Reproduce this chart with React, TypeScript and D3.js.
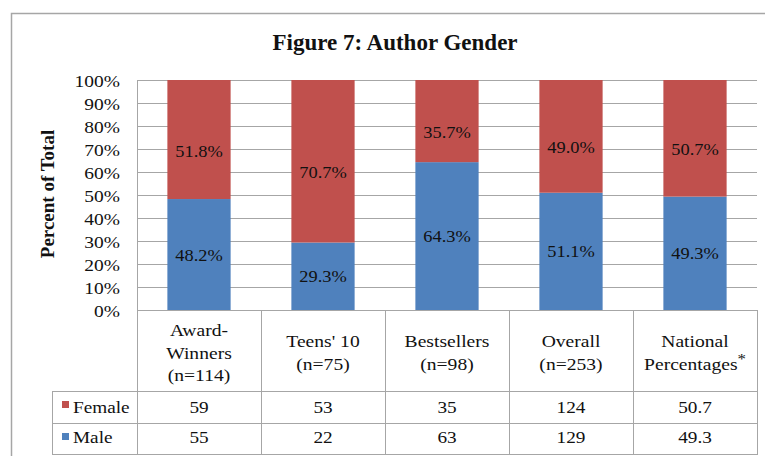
import * as d3 from "d3";
import React from "react";

// chart data
const categoryLines = [
  ["Award-", "Winners", "(n=114)"],
  ["Teens' 10", "(n=75)"],
  ["Bestsellers", "(n=98)"],
  ["Overall", "(n=253)"],
  ["National", "Percentages*"],
];
const femaleCounts = [59, 53, 35, 124, 50.7];
const maleCounts = [55, 22, 63, 129, 49.3];
const femaleLabels = ["51.8%", "70.7%", "35.7%", "49.0%", "50.7%"];
const maleLabels = ["48.2%", "29.3%", "64.3%", "51.1%", "49.3%"];
const yTicks = [0, 0.1, 0.2, 0.3, 0.4, 0.5, 0.6, 0.7, 0.8, 0.9, 1];

const RED = "#C0504D";
const BLUE = "#4F81BD";
const GRID = "#a6a6a6";
const FONT = "'Liberation Serif', 'DejaVu Serif', serif";

const W = 765;
const H = 456;
const plot = { left: 137, right: 757, top: 80, bottom: 310 };
const table = { legendLeft: 52, headerBottom: 391, femaleBottom: 423, maleBottom: 454 };

// text with a little horizontal stretch, like the source
const T = ({ x, y, sx = 1, anchor = "middle", size = 17.5, weight = "normal", children }: any) => (
  <text
    transform={`translate(${x},${y}) scale(${sx},1)`}
    textAnchor={anchor}
    fontSize={size}
    fontWeight={weight}
    fontFamily={FONT}
    fill="#111"
  >
    {children}
  </text>
);

export default function App() {
  const ids = categoryLines.map((_, i) => i);
  const rows = ids.map((i) => ({ i, male: maleCounts[i], female: femaleCounts[i] }));
  const stack = d3.stack<any>().keys(["male", "female"]).offset(d3.stackOffsetExpand);
  const series = stack(rows);

  const x = d3.scaleBand<number>().domain(ids).range([plot.left, plot.right]).paddingInner(0.49).paddingOuter(0.245);
  const col = d3.scaleBand<number>().domain(ids).range([plot.left, plot.right]);
  const y = d3.scaleLinear().domain([0, 1]).range([plot.bottom, plot.top]);

  const colors: Record<string, string> = { male: BLUE, female: RED };
  const labels: Record<string, string[]> = { male: maleLabels, female: femaleLabels };

  return (
    <svg width={W} height={H} style={{ position: "fixed", left: 0, top: 0, display: "block", background: "#fff" }}>
      <rect x={0} y={0} width={W} height={H} fill="#fff" />
      {/* outer chart frame */}
      <rect x={11.5} y={13.5} width={900} height={600} fill="none" stroke={GRID} strokeWidth={1.5} />

      {/* title */}
      <text x={395} y={50} textAnchor="middle" fontFamily={FONT} fontWeight="bold" fontSize={23} fill="#111">
        Figure 7: Author Gender
      </text>

      {/* y axis title */}
      <text
        transform={`translate(54,194) rotate(-90)`}
        textAnchor="middle"
        fontFamily={FONT}
        fontWeight="bold"
        fontSize={19}
        fill="#111"
      >
        Percent of Total
      </text>

      {/* gridlines + tick labels */}
      {yTicks.map((t) => (
        <g key={t}>
          <line x1={plot.left} x2={plot.right} y1={Math.round(y(t)) + 0.5} y2={Math.round(y(t)) + 0.5} stroke={GRID} />
          <T x={120} y={y(t) + 6.5} anchor="end" size={16.5} sx={1.18}>
            {d3.format(".0%")(t)}
          </T>
        </g>
      ))}
      <line x1={plot.left + 0.5} x2={plot.left + 0.5} y1={plot.top} y2={table.maleBottom} stroke={GRID} />

      {/* bars */}
      {series.map((s) =>
        s.map((d: any) => (
          <rect
            key={s.key + d.data.i}
            x={x(d.data.i)}
            width={x.bandwidth()}
            y={y(d[1])}
            height={y(d[0]) - y(d[1])}
            fill={colors[s.key]}
          />
        ))
      )}
      {series.map((s) =>
        s.map((d: any) => (
          <T
            key={"l" + s.key + d.data.i}
            x={x(d.data.i)! + x.bandwidth() / 2}
            y={(y(d[0]) + y(d[1])) / 2 + 6 + (s.key === "female" ? 11 : 0)}
            size={17.5}
            sx={1.05}
          >
            {labels[s.key][d.data.i]}
          </T>
        ))
      )}

      {/* data table lines */}
      {[table.headerBottom, table.femaleBottom, table.maleBottom].map((ly) => (
        <line key={ly} x1={table.legendLeft} x2={plot.right + 1} y1={ly + 0.5} y2={ly + 0.5} stroke={GRID} />
      ))}
      <line x1={table.legendLeft + 0.5} x2={table.legendLeft + 0.5} y1={table.headerBottom} y2={table.maleBottom} stroke={GRID} />
      {ids.map((i) => (
        <line
          key={"v" + i}
          x1={col(i)! + col.bandwidth() + 0.5}
          x2={col(i)! + col.bandwidth() + 0.5}
          y1={plot.bottom}
          y2={table.maleBottom}
          stroke={GRID}
        />
      ))}

      {/* header text */}
      {categoryLines.map((lines, i) => {
        const cx = col(i)! + col.bandwidth() / 2;
        const start = lines.length === 3 ? 336 : 347;
        return lines.map((ln, k) => {
          const star = ln.endsWith("*");
          return (
            <T key={i + "-" + k} x={cx} y={start + k * 22.5} sx={1.12}>
              {star ? ln.slice(0, -1) : ln}
              {star && (
                <tspan fontSize={15} dy={-6}>
                  *
                </tspan>
              )}
            </T>
          );
        });
      })}

      {/* legend keys */}
      <rect x={62} y={401} width={7} height={7} fill={RED} />
      <T x={73} y={412.5} anchor="start" sx={1.1}>
        Female
      </T>
      <rect x={62} y={433} width={7} height={7} fill={BLUE} />
      <T x={73} y={443} anchor="start" sx={1.1}>
        Male
      </T>

      {/* table values */}
      {ids.map((i) => {
        const cx = col(i)! + col.bandwidth() / 2;
        return (
          <g key={"val" + i}>
            <T x={cx} y={412.5} sx={1.1}>
              {femaleCounts[i]}
            </T>
            <T x={cx} y={443} sx={1.1}>
              {maleCounts[i]}
            </T>
          </g>
        );
      })}
    </svg>
  );
}
